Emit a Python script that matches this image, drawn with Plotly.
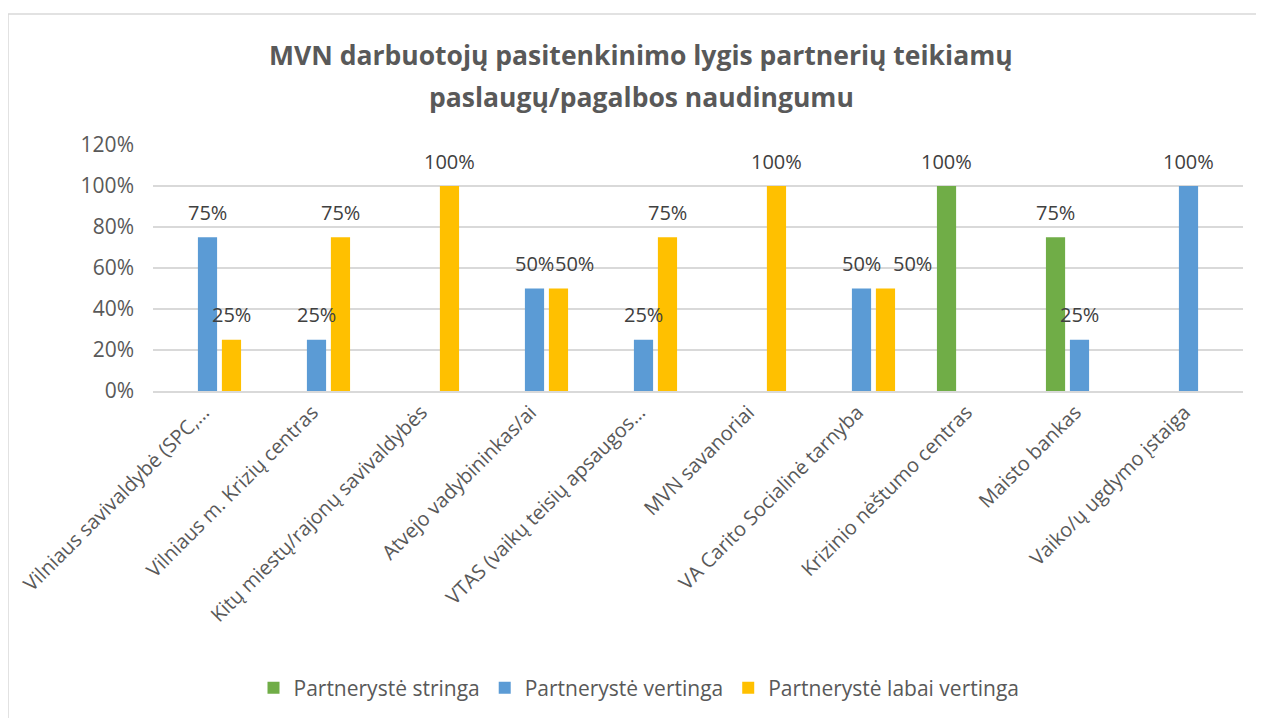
import plotly.graph_objects as go

categories = [
    "Vilniaus savivaldybė (SPC,…",
    "Vilniaus m. Krizių centras",
    "Kitų miestų/rajonų savivaldybės",
    "Atvejo vadybininkas/ai",
    "VTAS (vaikų teisių apsaugos…",
    "MVN savanoriai",
    "VA Carito Socialinė tarnyba",
    "Krizinio nėštumo centras",
    "Maisto bankas",
    "Vaiko/ų ugdymo įstaiga",
]
stringa = [None, None, None, None, None, None, None, 1.00, 0.75, None]
vertinga = [0.75, 0.25, None, 0.50, 0.25, None, 0.50, None, 0.25, 1.00]
labai_vertinga = [0.25, 0.75, 1.00, 0.50, 0.75, 1.00, 0.50, None, None, None]
series_names = ["Partnerystė stringa", "Partnerystė vertinga", "Partnerystė labai vertinga"]
title_lines = ["MVN darbuotojų pasitenkinimo lygis partnerių teikiamų",
               "paslaugų/pagalbos naudingumu"]
y_ticks = [0, 0.2, 0.4, 0.6, 0.8, 1.0, 1.2]

# style (page is rendered with an 8px body margin, so figure coords = page coords - 8)
colors = ["#70AD47", "#5B9BD5", "#FFC000"]
W, H = 1264, 718
ML, MR, MT, MB = 145, 29, 137, 335
PW, PH = W - ML - MR, H - MT - MB
BARGAP = 0.34
FONT = "Open Sans"
label_nudge = {(2, 3): 16, (2, 6): 27}


def px_x(px):
    return (px - ML) / PW


def px_y(py):
    return (H - MB - py) / PH


fig = go.Figure()
all_series = [stringa, vertinga, labai_vertinga]
for name, vals, col in zip(series_names, all_series, colors):
    fig.add_trace(go.Bar(x=categories, y=vals, name=name, marker_color=col,
                         marker_line_width=0))

cat_w = PW / len(categories)
slot = cat_w * (1 - BARGAP) / 3
annotations = []
for si, vals in enumerate(all_series):
    for ci, v in enumerate(vals):
        if v is None:
            continue
        annotations.append(dict(
            x=categories[ci], y=v, xref="x", yref="y",
            text=f"{v*100:.0f}%", showarrow=False,
            xshift=(si - 1) * slot + label_nudge.get((si, ci), 0), yshift=25,
            font=dict(family=FONT, size=20, color="#404040"),
        ))

for line, ty in zip(title_lines, [47, 89]):
    annotations.append(dict(
        x=px_x(633), y=px_y(ty), xref="paper", yref="paper",
        xanchor="center", yanchor="middle", showarrow=False,
        text=f"<b>{line}</b>",
        font=dict(family=FONT, size=26.5, color="#595959"),
    ))

fig.update_layout(
    width=W, height=H,
    margin=dict(l=ML, r=MR, t=MT, b=MB, autoexpand=False),
    paper_bgcolor="white", plot_bgcolor="white",
    barmode="group", bargap=BARGAP, bargroupgap=0.2,
    font=dict(family=FONT, color="#595959"),
    xaxis=dict(tickangle=-45, tickfont=dict(family=FONT, size=20, color="#595959"),
               showgrid=False, showline=True, linecolor="#D9D9D9", linewidth=1.5,
               ticks="", automargin=False, ticklabelshift=-4),
    yaxis=dict(range=[0, 1.2], tickvals=y_ticks, tickformat=".0%",
               tickfont=dict(family=FONT, size=21, color="#595959"),
               showgrid=True, gridcolor="#D9D9D9", gridwidth=1.5,
               zeroline=False, showline=False, ticks="", ticklabelstandoff=18,
               automargin=False),
    legend=dict(orientation="h", x=px_x(631), xanchor="center", y=px_y(680),
                yanchor="middle", font=dict(family=FONT, size=21, color="#595959"),
                traceorder="normal", itemwidth=30),
    annotations=annotations,
    shapes=[dict(type="rect", xref="paper", yref="paper",
                 x0=px_x(0), x1=px_x(W + 10),
                 y0=px_y(H + 10), y1=px_y(6),
                 line=dict(color="#D9D9D9", width=1.5), layer="below")],
)

fig.write_html("out.html")
